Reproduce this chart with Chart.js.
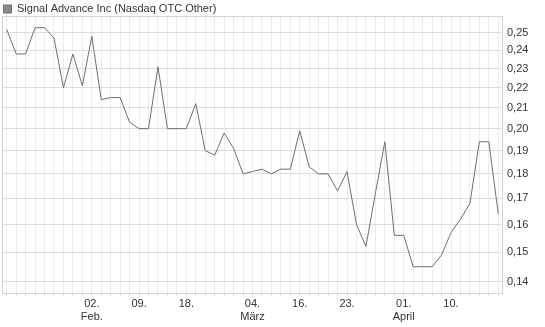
<!DOCTYPE html>
<html>
<head>
<meta charset="utf-8">
<script src="https://cdn.jsdelivr.net/npm/chart.js@4/dist/chart.umd.min.js"></script>
<style>
  html, body { margin: 0; padding: 0; background: #fff; }
  #wrap { width: 545px; height: 327px; }
</style>
</head>
<body>
<div id="wrap"><canvas id="kursChart"></canvas></div>
<script>
// Schlusskurse (USD), ein Wert pro Handelstag
const prices = [0.252, 0.238, 0.238, 0.253, 0.253, 0.247, 0.220, 0.238, 0.221, 0.248,
  0.214, 0.215, 0.215, 0.203, 0.200, 0.200, 0.231, 0.200, 0.200, 0.200,
  0.212, 0.190, 0.188, 0.198, 0.191, 0.180, 0.181, 0.182, 0.180, 0.182,
  0.182, 0.199, 0.183, 0.180, 0.180, 0.173, 0.181, 0.160, 0.152, 0.172,
  0.194, 0.156, 0.156, 0.145, 0.145, 0.145, 0.149, 0.157, 0.162, 0.168,
  0.194, 0.194, 0.164];

// Achsenbeschriftung unten (Position = Handelstag-Index)
const tickIndex = [9, 14, 19, 26, 31, 36, 42, 47];
const tickDay = ['02.', '09.', '18.', '04.', '16.', '23.', '01.', '10.'];
const tickMonth = ['Feb.', '', '', 'März', '', '', 'April', ''];

// Achsenbeschriftung rechts
const yTicks = [0.14, 0.15, 0.16, 0.17, 0.18, 0.19, 0.20, 0.21, 0.22, 0.23, 0.24, 0.25];

const labels = prices.map((p, i) => {
  const k = tickIndex.indexOf(i);
  if (k < 0) return '';
  return tickMonth[k] ? [tickDay[k], tickMonth[k]] : tickDay[k];
});

// Rahmen um den Plotbereich, Legende etwas tiefer setzen
const frame = {
  id: 'frame',
  afterLayout(chart) {
    if (chart.legend) { chart.legend.top += 2; chart.legend.bottom += 2; }
  },
  beforeDatasetsDraw(chart) {
    const a = chart.chartArea, c = chart.ctx;
    c.save();
    c.strokeStyle = '#d4d4d4';
    c.lineWidth = 1;
    c.strokeRect(Math.round(a.left) + 0.5, Math.round(a.top) + 0.5,
      Math.round(a.right - a.left) - 1, Math.round(a.bottom - a.top));
    c.restore();
  }
};

Chart.defaults.font.family = "'Liberation Sans', Arial, sans-serif";
Chart.defaults.font.size = 11;
Chart.defaults.color = '#333';

new Chart(document.getElementById('kursChart'), {
  type: 'line',
  data: {
    labels: labels,
    datasets: [{
      label: 'Signal Advance Inc (Nasdaq OTC Other)',
      data: prices,
      borderColor: '#6e6e6e',
      backgroundColor: '#8c8c8c',
      borderWidth: 1,
      pointRadius: 0,
      tension: 0,
      fill: false
    }]
  },
  options: {
    responsive: true,
    maintainAspectRatio: false,
    animation: false,
    layout: { padding: { left: 2, right: 0, top: 0, bottom: 0 } },
    plugins: {
      legend: {
        position: 'top',
        align: 'start',
        maxHeight: 16,
        labels: { boxWidth: 8, boxHeight: 8, padding: 1.5, color: '#333', font: { size: 11 } }
      },
      tooltip: { enabled: false }
    },
    scales: {
      x: {
        type: 'category',
        offset: true,
        grid: { offset: false, color: '#ececec', tickLength: 3, tickColor: '#d4d4d4' },
        border: { display: false },
        ticks: {
          autoSkip: false, maxRotation: 0, minRotation: 0, padding: 1,
          callback: (v, i) => labels[i]
        },
        afterFit: s => { s.height = 34; }
      },
      y: {
        type: 'logarithmic',
        position: 'right',
        min: 0.1364,
        max: 0.26,
        grid: { color: '#dcdcdc', drawTicks: false },
        border: { display: false },
        ticks: {
          padding: 4,
          callback: v => Number(v).toFixed(2).replace('.', ',')
        },
        afterBuildTicks: s => { s.ticks = yTicks.map(v => ({ value: v })); },
        afterFit: s => { s.width = 42; }
      }
    }
  },
  plugins: [frame]
});
</script>
</body>
</html>
